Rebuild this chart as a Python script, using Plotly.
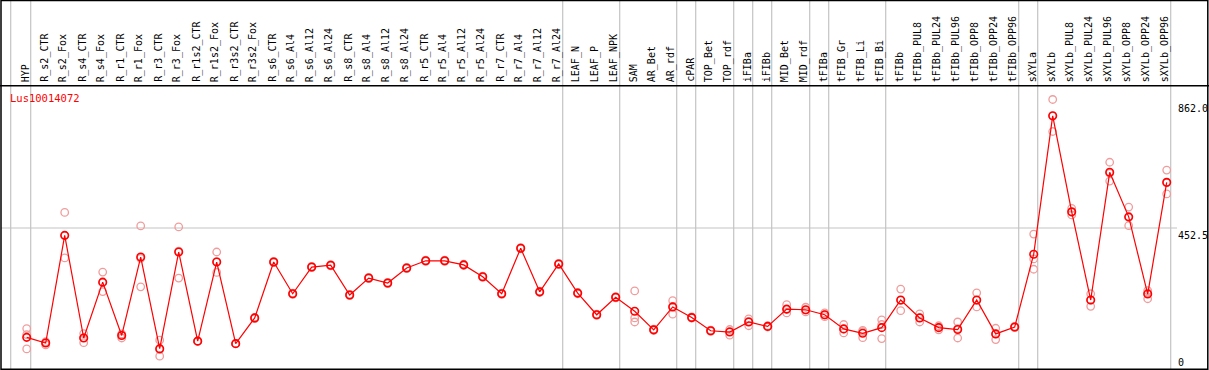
import plotly.graph_objects as go

categories = ["HYP", "R_s2_CTR", "R_s2_Fox", "R_s4_CTR", "R_s4_Fox", "R_r1_CTR", "R_r1_Fox",
              "R_r3_CTR", "R_r3_Fox", "R_r1s2_CTR", "R_r1s2_Fox", "R_r3s2_CTR", "R_r3s2_Fox",
              "R_s6_CTR", "R_s6_Al4", "R_s6_Al12", "R_s6_Al24", "R_s8_CTR", "R_s8_Al4",
              "R_s8_Al12", "R_s8_Al24", "R_r5_CTR", "R_r5_Al4", "R_r5_Al12", "R_r5_Al24",
              "R_r7_CTR", "R_r7_Al4", "R_r7_Al12", "R_r7_Al24", "LEAF_N", "LEAF_P", "LEAF_NPK",
              "SAM", "AR_Bet", "AR_rdf", "cPAR", "TOP_Bet", "TOP_rdf", "iFIBa", "iFIBb",
              "MID_Bet", "MID_rdf", "tFIBa", "tFIB_Gr", "tFIB_Li", "tFIB_Bi", "tFIBb",
              "tFIBb_PUL8", "tFIBb_PUL24", "tFIBb_PUL96", "tFIBb_OPP8", "tFIBb_OPP24",
              "tFIBb_OPP96", "sXYLa", "sXYLb", "sXYLb_PUL8", "sXYLb_PUL24", "sXYLb_PUL96",
              "sXYLb_OPP8", "sXYLb_OPP24", "sXYLb_OPP96"]

mean_values = [104, 86, 429, 102, 280, 110, 360, 68, 376, 92, 344, 84, 166,
               344, 243, 328, 334, 239, 293, 277, 325, 348, 348, 335, 297,
               243, 388, 249, 338, 245, 176, 232,
               187, 128, 201, 167, 125, 121, 153, 139, 194, 192, 176, 131, 117, 135, 223,
               166, 135, 129, 223, 115, 137, 369, 810, 504, 223, 630, 488, 242, 598]

rep1 = [132, 80, 502, 116, 312, 102, 459, 95, 456, 91, 376, 84, 168,
        346, 245, 330, 336, 241, 295, 279, 327, 350, 350, 337, 299,
        245, 390, 251, 340, 247, 178, 234,
        252, 130, 221, 169, 127, 129, 163, 141, 208, 200, 182, 145, 126, 160, 258,
        179, 141, 153, 246, 133, 139, 433, 862, 515, 243, 662, 519, 253, 637]
rep2 = [113, 90, 357, 87, 250, 115, 265, 44, 293, 93, 311, 84, 164,
        342, 241, 326, 332, 237, 291, 275, 323, 346, 346, 333, 295,
        241, 386, 247, 336, 243, 174, 230,
        166, 126, 178, 165, 123, 111, 141, 137, 182, 185, 170, 118, 103, 100, 189,
        153, 128, 102, 201, 97, 135, 354, 760, 494, 203, 602, 460, 227, 561]
rep3 = [67, 88, 428, 103, 278, 112, 356, 65, 379, 92, 345, 84, 166,
        344, 243, 328, 334, 239, 293, 277, 325, 348, 348, 335, 297,
        243, 388, 249, 338, 245, 176, 232,
        153, 128, 203, 167, 125, 123, 155, 139, 193, 191, 176, 130, 122, 145, 222,
        166, 136, 132, 222, 115, 137, 321, 809, 503, 223, 627, 486, 246, 596]

# index after which a group separator is drawn
group_ends = [0, 28, 31, 34, 35, 37, 38, 39, 41, 42, 45, 52, 53, 60]

title = "Lus10014072"
y_ticks = [862.0, 452.5, 0]
y_tick_text = ["862.0", "452.5", "0"]

W, H = 1209, 370
n = len(categories)
idx = list(range(n))

# pixel mapping
x0px, dx = 26.7, 19.0
xr = [(0 - x0px) / dx, (W - x0px) / dx]
yr = [0, 1179]


def px_x(p):
    return p / W


def px_y(p):
    return 1 - p / H


def ypix(v):
    return H - v * H / yr[1]


fig = go.Figure()

rx, ry = [], []
for r in (rep1, rep2, rep3):
    rx += idx
    ry += r
fig.add_trace(go.Scatter(x=rx, y=ry, mode="markers",
                         marker=dict(symbol="circle-open", size=7.5, color="#f09c9c",
                                     line=dict(width=1.3, color="#f09c9c")),
                         hoverinfo="skip", showlegend=False))
fig.add_trace(go.Scatter(x=idx, y=mean_values, mode="lines+markers",
                         line=dict(color="#ff0000", width=1.2),
                         marker=dict(symbol="circle-open", size=7.5, color="#ff0000",
                                     line=dict(width=1.6, color="#ff0000")),
                         text=categories, hovertemplate="%{text}: %{y}<extra></extra>",
                         showlegend=False))

shapes = []
gray = "#c4c4c4"
# group separators
for g in group_ends:
    shapes.append(dict(type="line", xref="x", yref="paper", x0=g + 4 / dx, x1=g + 4 / dx,
                       y0=0, y1=1, line=dict(color=gray, width=1.2), layer="below"))
# left gray line
shapes.append(dict(type="line", xref="paper", yref="paper", x0=px_x(10.7), x1=px_x(10.7),
                   y0=0, y1=1, line=dict(color=gray, width=1.2), layer="below"))
# middle gridline
shapes.append(dict(type="line", xref="paper", yref="y", x0=px_x(1), x1=px_x(1177),
                   y0=y_ticks[1], y1=y_ticks[1], line=dict(color=gray, width=1.2), layer="below"))
# header line
shapes.append(dict(type="line", xref="paper", yref="paper", x0=0, x1=1,
                   y0=px_y(85.7), y1=px_y(85.7), line=dict(color="black", width=1.5)))
# frame
shapes.append(dict(type="rect", xref="paper", yref="paper", x0=px_x(1), x1=px_x(1207.8),
                   y0=px_y(369.2), y1=px_y(0.6), line=dict(color="black", width=1.5)))

annotations = []
for i, c in enumerate(categories):
    annotations.append(dict(x=i, y=px_y(84), xref="x", yref="paper", text=c,
                            textangle=-90, showarrow=False, xanchor="center", yanchor="bottom",
                            xshift=-1.5, font=dict(family="DejaVu Sans Mono", size=10, color="black")))
annotations.append(dict(x=px_x(8), y=px_y(90), xref="paper", yref="paper", text=title,
                        showarrow=False, xanchor="left", yanchor="top",
                        font=dict(family="DejaVu Sans Mono", size=10.5, color="#ff0000")))
tick_tops = [101, 227.5, 355]
for t, top in zip(y_tick_text, tick_tops):
    annotations.append(dict(x=px_x(1175.5), y=px_y(top), xref="paper", yref="paper", text=t,
                            showarrow=False, xanchor="left", yanchor="top",
                            font=dict(family="DejaVu Sans Mono", size=10, color="black")))

fig.update_layout(width=W, height=H, margin=dict(l=0, r=0, t=0, b=0),
                  paper_bgcolor="white", plot_bgcolor="white",
                  xaxis=dict(range=xr, visible=False, fixedrange=True),
                  yaxis=dict(range=yr, visible=False, fixedrange=True),
                  shapes=shapes, annotations=annotations, showlegend=False)

fig.write_html("out.html", config={"displayModeBar": False},
               post_script="document.body.style.margin='0px';document.body.style.padding='0px';")
